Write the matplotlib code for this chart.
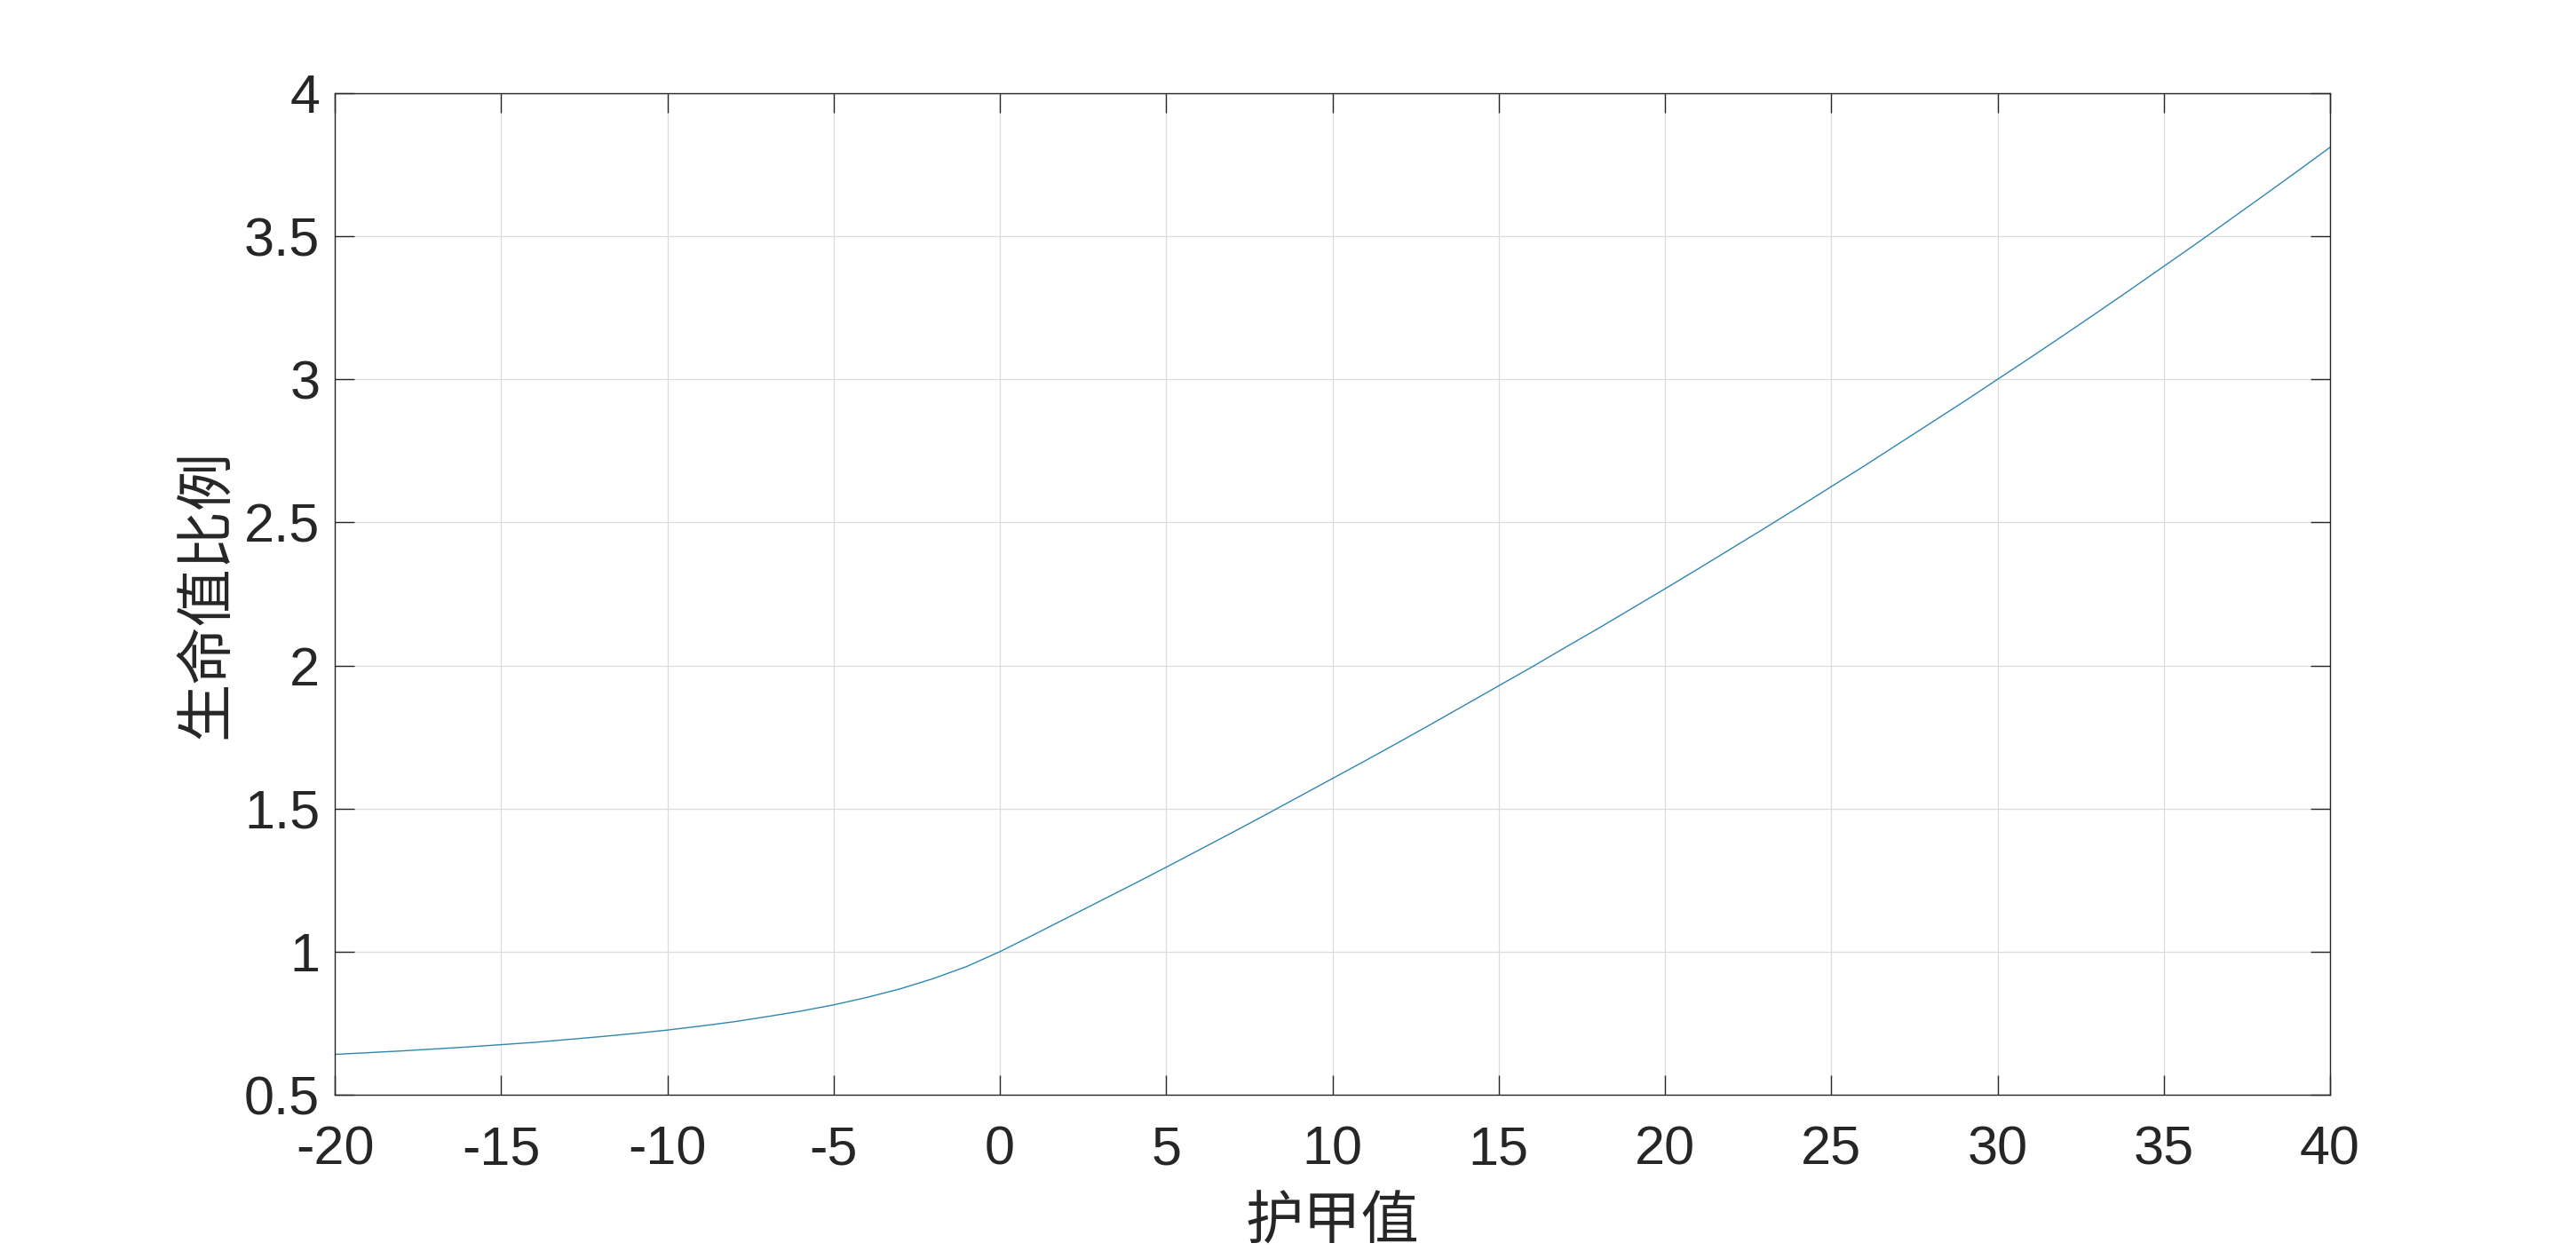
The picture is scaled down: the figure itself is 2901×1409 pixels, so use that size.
import numpy as np
import matplotlib
matplotlib.use('Agg')
import matplotlib.pyplot as plt

plt.rcParams['font.family'] = ['Liberation Sans', 'Noto Sans CJK SC', 'DejaVu Sans']
plt.rcParams['axes.unicode_minus'] = False

# 护甲值 -> 生命值比例 (one point per armor unit)
armor = list(range(-20, 41))
hp_ratio = [
    0.641, 0.647, 0.653, 0.660, 0.667, 0.675, 0.683, 0.693, 0.703, 0.714,
    0.726, 0.740, 0.755, 0.773, 0.792, 0.814, 0.840, 0.870, 0.906, 0.948,
    1.000, 1.058, 1.117, 1.176, 1.235, 1.295, 1.356, 1.417, 1.479, 1.542,
    1.605, 1.668, 1.732, 1.797, 1.863, 1.929, 1.995, 2.063, 2.130, 2.199,
    2.268, 2.338, 2.409, 2.480, 2.552, 2.625, 2.698, 2.773, 2.848, 2.923,
    3.000, 3.077, 3.155, 3.234, 3.314, 3.395, 3.476, 3.559, 3.642, 3.726,
    3.811,
]
xticks = [-20, -15, -10, -5, 0, 5, 10, 15, 20, 25, 30, 35, 40]
yticks = [0.5, 1, 1.5, 2, 2.5, 3, 3.5, 4]
ytick_labels = ['0.5', '1', '1.5', '2', '2.5', '3', '3.5', '4']

fig = plt.figure(figsize=(29.01, 14.09), dpi=100)
ax = fig.add_axes([377 / 2901, 1 - 1233 / 1409, (2624 - 377) / 2901, (1233 - 105) / 1409])

ax.plot(armor, hp_ratio, color='#2f86b0', linewidth=1.0)

ax.set_xlim(-20, 40)
ax.set_ylim(0.5, 4)
ax.set_xticks(xticks)
ax.set_xticklabels([str(t) for t in xticks])
ax.set_yticks(yticks)
ax.set_yticklabels(ytick_labels)

ax.grid(True, color='#dcdcdc', linewidth=0.9)
ax.set_axisbelow(True)
for s in ax.spines.values():
    s.set_color('#262626')
    s.set_linewidth(1.0)

ax.tick_params(direction='in', length=16, width=1.0, colors='#262626',
               labelsize=44, top=True, right=True)
ax.tick_params(axis='x', pad=25)
ax.tick_params(axis='y', pad=12)

ax.set_xlabel('护甲值', family=['Noto Sans CJK SC'], fontsize=47, color='#262626', labelpad=14)
ax.set_ylabel('生命值比例', family=['Noto Sans CJK SC'], fontsize=47, color='#262626', labelpad=6)

fig.savefig('out.png', dpi=100, facecolor='white')
